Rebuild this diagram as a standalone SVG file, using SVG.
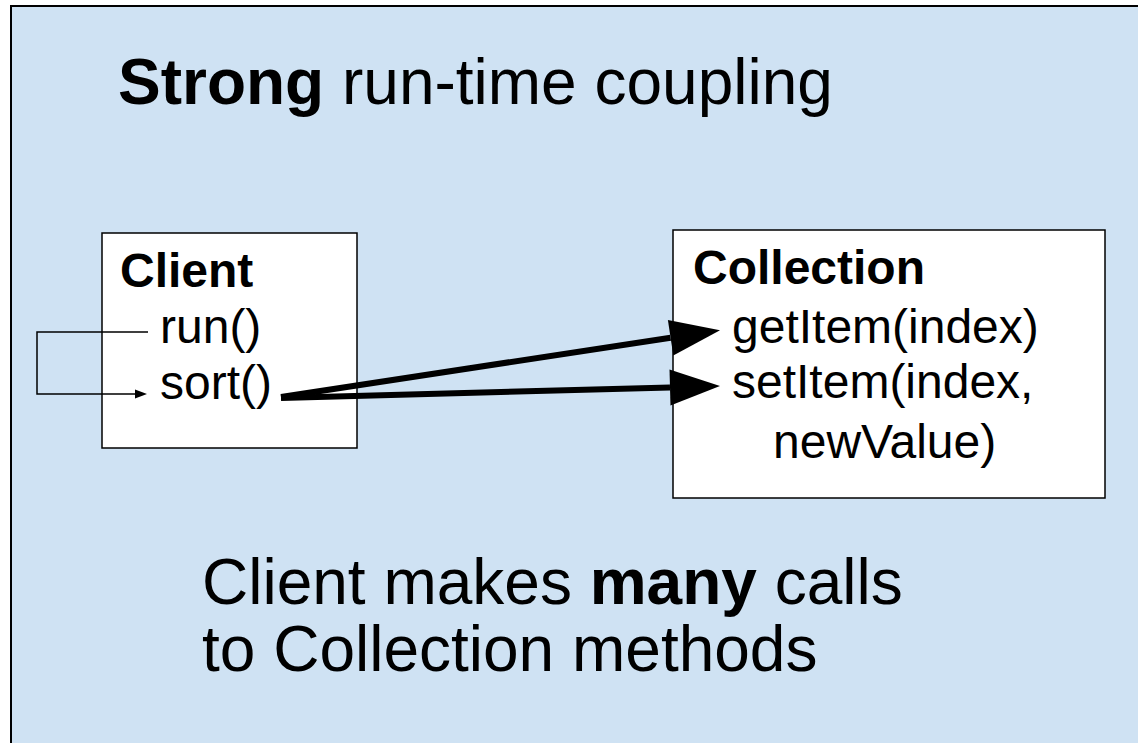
<svg xmlns="http://www.w3.org/2000/svg" width="1138" height="743" viewBox="0 0 1138 743">
  <style>
    .t { font-family: "Liberation Sans", Arial, sans-serif; fill: #000; }
    .b { font-weight: bold; }
    .box { fill: #fff; stroke: #000; stroke-width: 1.5; }
    .thick { stroke: #000; stroke-width: 6; fill: none; }
    .thin { stroke: #000; stroke-width: 1.5; fill: none; }
  </style>
  <defs>
    <marker id="bighead" markerUnits="userSpaceOnUse" markerWidth="50" markerHeight="36" refX="0" refY="18" orient="auto" overflow="visible">
      <path d="M0,0 L50,18 L0,36 z" fill="#000"/>
    </marker>
    <marker id="smallhead" markerUnits="userSpaceOnUse" markerWidth="12" markerHeight="9" refX="0" refY="4.5" orient="auto" overflow="visible">
      <path d="M0,0 L12,4.5 L0,9 z" fill="#000"/>
    </marker>
  </defs>
  <rect x="0" y="0" width="1138" height="743" fill="#fff"/>
  <rect id="frame" x="11" y="6" width="1140" height="750" fill="#cfe2f3" stroke="#000" stroke-width="2"/>

  <g id="title">
    <text class="t" x="118" y="104" font-size="64"><tspan class="b">Strong</tspan> run-time coupling</text>
  </g>

  <g id="client">
    <rect class="box" x="102" y="233" width="255" height="215"/>
    <text class="t b" x="120" y="287" font-size="48">Client</text>
    <text class="t" x="160" y="343" font-size="48">run()</text>
    <text class="t" x="160" y="399" font-size="48">sort()</text>
  </g>

  <g id="collection">
    <rect class="box" x="673" y="230" width="432" height="268"/>
    <text class="t b" x="693" y="284" font-size="48">Collection</text>
    <text class="t" x="732" y="343" font-size="48">getItem(index)</text>
    <text class="t" x="732" y="398" font-size="48">setItem(index,</text>
    <text class="t" x="773" y="458" font-size="48">newValue)</text>
  </g>

  <g id="connectors">
    <polyline class="thin" points="148,332 37,332 37,394 135,394" marker-end="url(#smallhead)"/>
    <line class="thick" x1="281" y1="397" x2="670.6" y2="337.7" marker-end="url(#bighead)"/>
    <line class="thick" x1="281" y1="398" x2="670" y2="387.4" marker-end="url(#bighead)"/>
  </g>

  <g id="caption">
    <text class="t" x="202" y="604" font-size="64">Client makes <tspan class="b">many</tspan> calls</text>
    <text class="t" x="202" y="671" font-size="64">to Collection methods</text>
  </g>
</svg>
